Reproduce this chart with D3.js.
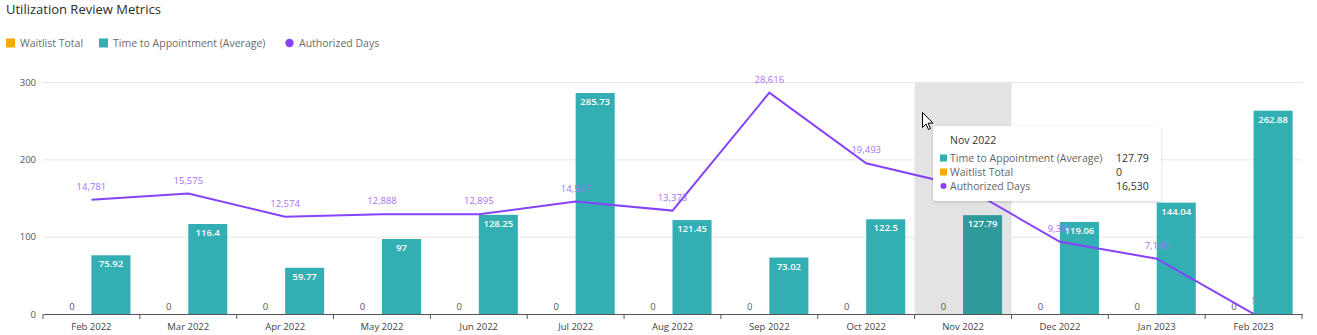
<!DOCTYPE html>
<html>
<head>
<meta charset="utf-8">
<script src="https://cdn.jsdelivr.net/npm/d3@7"></script>
<style>
  html, body { margin: 0; padding: 0; background: #fff; }
  svg { display: block; font-family: "Open Sans", "Noto Sans", sans-serif; }
</style>
</head>
<body>
<svg id="chart" width="1317" height="335"></svg>
<script>
// Monthly categories
const months = ["Feb 2022", "Mar 2022", "Apr 2022", "May 2022", "Jun 2022", "Jul 2022",
  "Aug 2022", "Sep 2022", "Oct 2022", "Nov 2022", "Dec 2022", "Jan 2023", "Feb 2023"];
// Bar series
const waitlistTotal = [0, 0, 0, 0, 0, 0, 0, 0, 0, 0, 0, 0, 0];
const timeToAppointment = [75.92, 116.4, 59.77, 97, 128.25, 285.73, 121.45, 73.02, 122.5, 127.79, 119.06, 144.04, 262.88];
// Line series
const authorizedDays = [14781, 15575, 12574, 12888, 12895, 14547, 13373, 28616, 19493, 16530, 9341, 7148, 1];
// Left axis ticks
const yTicks = [0, 100, 200, 300];

const seriesNames = ["Waitlist Total", "Time to Appointment (Average)", "Authorized Days"];
const colors = { waitlist: "#f7aa00", time: "#33aeb2", timeHi: "#2e9a9c", line: "#8743fb", lineLabel: "#a870fb" };
const highlightMonth = "Nov 2022";

const svg = d3.select("#chart");
const plot = { left: 43, right: 1302, top: 82, bottom: 314 };

const x = d3.scaleBand().domain(months).range([plot.left, plot.right]).padding(0);
const xSub = d3.scaleBand().domain(["waitlist", "time"]).range([0, x.bandwidth()])
  .paddingInner(0).paddingOuter(0.24);
const y = d3.scaleLinear().domain([0, 300]).range([plot.bottom, plot.top]);
const yLine = d3.scaleLinear().domain([0, 30000]).range([plot.bottom, plot.top]);

// Title
svg.append("text").attr("x", 6).attr("y", 14).attr("font-size", 13).attr("fill", "#2b2b2b")
  .text("Utilization Review Metrics");

// Legend
const legend = svg.append("g").attr("transform", "translate(6,43)");
const legendItems = [
  { name: seriesNames[0], color: colors.waitlist, shape: "square", x: 0 },
  { name: seriesNames[1], color: colors.time, shape: "square", x: 93 },
  { name: seriesNames[2], color: colors.line, shape: "circle", x: 279 }
];
legendItems.forEach(d => {
  const g = legend.append("g").attr("transform", `translate(${d.x},0)`);
  if (d.shape === "square") {
    g.append("rect").attr("x", 0).attr("y", -4.5).attr("width", 9).attr("height", 9).attr("fill", d.color);
  } else {
    g.append("circle").attr("cx", 4.5).attr("cy", 0).attr("r", 4.2).attr("fill", d.color);
  }
  g.append("text").attr("x", 14).attr("y", 3.8).attr("font-size", 10.5).attr("fill", "#6b6b6b").text(d.name);
});

// Hover highlight column
svg.append("rect")
  .attr("x", x(highlightMonth)).attr("y", plot.top)
  .attr("width", x.bandwidth()).attr("height", plot.bottom - plot.top)
  .attr("fill", "#e3e3e3");

// Gridlines and left axis labels
const yAxis = d3.axisLeft(y).tickValues(yTicks).tickSize(-(plot.right - plot.left)).tickPadding(7);
const gy = svg.append("g").attr("transform", `translate(${plot.left},0)`).call(yAxis);
gy.select(".domain").remove();
gy.selectAll(".tick line").attr("stroke", "#e6e6e6").attr("stroke-width", 1)
  .filter(d => d === 0).remove();
gy.selectAll(".tick text").attr("fill", "#555").attr("font-size", 9.5)
  .attr("font-family", "\"Open Sans\", \"Noto Sans\", sans-serif");

// Bars
const groups = svg.append("g").selectAll("g").data(months).join("g")
  .attr("transform", d => `translate(${x(d)},0)`);

groups.append("rect")
  .attr("x", xSub("waitlist")).attr("width", xSub.bandwidth())
  .attr("y", (d, i) => y(waitlistTotal[i]))
  .attr("height", (d, i) => y(0) - y(waitlistTotal[i]))
  .attr("fill", colors.waitlist);

groups.append("rect")
  .attr("x", xSub("time")).attr("width", xSub.bandwidth())
  .attr("y", (d, i) => y(timeToAppointment[i]))
  .attr("height", (d, i) => y(0) - y(timeToAppointment[i]))
  .attr("fill", d => d === highlightMonth ? colors.timeHi : colors.time);

// Waitlist value labels (sit above the zero-height bars)
groups.append("text")
  .attr("x", xSub("waitlist") + xSub.bandwidth() / 2)
  .attr("y", (d, i) => y(waitlistTotal[i]) - 4)
  .attr("text-anchor", "middle").attr("font-size", 9.5).attr("fill", "#555")
  .text((d, i) => d3.format(",")(waitlistTotal[i]));

// Line for authorized days
const line = d3.line()
  .x((d, i) => x(months[i]) + x.bandwidth() / 2)
  .y(d => yLine(d));
svg.append("path").datum(authorizedDays)
  .attr("d", line).attr("fill", "none")
  .attr("stroke", colors.line).attr("stroke-width", 2);

// Line value labels
svg.append("g").selectAll("text").data(authorizedDays).join("text")
  .attr("x", (d, i) => x(months[i]) + x.bandwidth() / 2)
  .attr("y", d => yLine(d) - 10)
  .attr("text-anchor", "middle").attr("font-size", 9.5).attr("fill", colors.lineLabel)
  .text(d => d3.format(",")(d));

// Time-to-appointment labels inside bar tops
groups.append("text")
  .attr("x", xSub("time") + xSub.bandwidth() / 2)
  .attr("y", (d, i) => y(timeToAppointment[i]) + 12)
  .attr("text-anchor", "middle").attr("font-size", 9.5).attr("font-weight", 600).attr("fill", "#fff")
  .text((d, i) => timeToAppointment[i]);

// Bottom axis
const xAxis = d3.axisBottom(x).tickSize(0).tickPadding(9);
const gx = svg.append("g").attr("transform", `translate(0,${plot.bottom})`).call(xAxis);
gx.select(".domain").attr("stroke", "#555");
gx.selectAll(".tick text").attr("fill", "#444").attr("font-size", 9.5)
  .attr("font-family", "\"Open Sans\", \"Noto Sans\", sans-serif");
// Category separators
gx.append("g").selectAll("line").data(months.concat(["end"])).join("line")
  .attr("x1", (d, i) => plot.left + i * x.step()).attr("x2", (d, i) => plot.left + i * x.step())
  .attr("y1", 0).attr("y2", 5).attr("stroke", "#555");

// Tooltip
const idx = months.indexOf(highlightMonth);
const tip = svg.append("g").attr("transform", "translate(933,126)");
const defs = svg.append("defs");
const filt = defs.append("filter").attr("id", "shadow").attr("x", "-10%").attr("y", "-20%")
  .attr("width", "120%").attr("height", "150%");
filt.append("feDropShadow").attr("dx", 0).attr("dy", 1).attr("stdDeviation", 1.5)
  .attr("flood-color", "#000").attr("flood-opacity", 0.18);
tip.append("rect").attr("width", 228).attr("height", 75).attr("rx", 3)
  .attr("fill", "#fff").attr("filter", "url(#shadow)");
tip.append("text").attr("x", 17).attr("y", 18).attr("font-size", 10.5).attr("fill", "#333")
  .text(highlightMonth);
const tipRows = [
  { name: seriesNames[1], value: d3.format(",")(timeToAppointment[idx]), color: colors.time, shape: "square" },
  { name: seriesNames[0], value: d3.format(",")(waitlistTotal[idx]), color: colors.waitlist, shape: "square" },
  { name: seriesNames[2], value: d3.format(",")(authorizedDays[idx]), color: colors.line, shape: "circle" }
];
tipRows.forEach((r, i) => {
  const ry = 32 + i * 14;
  if (r.shape === "square") {
    tip.append("rect").attr("x", 7).attr("y", ry - 3.5).attr("width", 7).attr("height", 7).attr("fill", r.color);
  } else {
    tip.append("circle").attr("cx", 10.5).attr("cy", ry).attr("r", 3).attr("fill", r.color);
  }
  tip.append("text").attr("x", 17).attr("y", ry + 3.8).attr("font-size", 10.5).attr("fill", "#666").text(r.name);
  tip.append("text").attr("x", 183).attr("y", ry + 3.8).attr("font-size", 10.5).attr("fill", "#333").text(r.value);
});

// Mouse pointer
svg.append("path")
  .attr("transform", "translate(922.5,112.5)")
  .attr("d", "M0,0 L0,15 L3.5,11.5 L6,17 L8,16 L5.6,10.6 L10.5,10.6 Z")
  .attr("fill", "#fff").attr("stroke", "#000").attr("stroke-width", 1).attr("stroke-linejoin", "round");
</script>
</body>
</html>
